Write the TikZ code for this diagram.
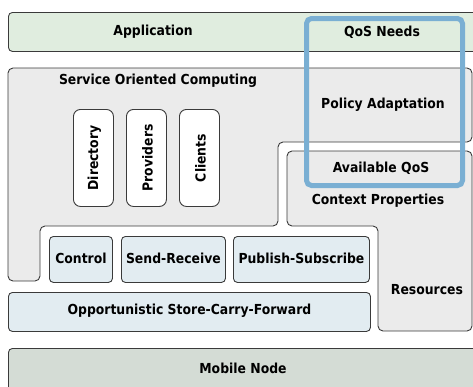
\documentclass[tikz,border=0pt]{standalone}
\usepackage{fontspec}
\setmainfont{DejaVu Sans}
\newfontfamily\lblfont{DejaVu Sans}[FakeStretch=0.9]
\definecolor{appgreen}{HTML}{E0EDDF}
\definecolor{socgray}{HTML}{EBEBEB}
\definecolor{lblue}{HTML}{E2ECF1}
\definecolor{mobgray}{HTML}{D4DCD5}
\definecolor{qosblue}{HTML}{7AAFD3}
\definecolor{edge}{HTML}{3A3A3A}
\begin{document}
\begin{tikzpicture}[x=1pt,y=-1pt,
  lbl/.style={font=\lblfont\fontsize{13.8}{16}\selectfont\bfseries, text=black, inner sep=0pt},
  layer/.style={draw=edge, line width=0.9pt, rounded corners=4pt, inner sep=0pt, anchor=north west},
  vbox/.style={layer, fill=white, rounded corners=7pt, minimum width=40pt, minimum height=97pt},
  proto/.style={layer, fill=lblue, minimum height=46pt}]
\useasboundingbox (0,0) rectangle (473,386);
% Application layer
\node[layer, fill=appgreen, minimum width=480pt, minimum height=39pt] (app) at (8,12) {};
\node[lbl] (applbl) at (153,32) {Application};
% Service oriented computing region
\draw[draw=edge, line width=0.9pt, fill=socgray, rounded corners=5pt]
  (8,68) -- (472,68) -- (472,142) -- (278,142) -- (278,226) -- (40,226) -- (40,281) -- (8,281) -- cycle;
\node[lbl] (soc) at (158,81) {Service Oriented Computing};
% Context properties / resources region
\draw[draw=edge, line width=0.9pt, fill=socgray, rounded corners=5pt]
  (287,151) -- (472,151) -- (472,331) -- (378,331) -- (378,226) -- (287,226) -- cycle;
\node[lbl] (ctx) at (378,201) {Context Properties};
\node[lbl] (res) at (427,290) {Resources};
% service boxes
\node[vbox] (dir) at (73,109) {};
\node[vbox] (prov) at (126,109) {};
\node[vbox] (cli) at (179,109) {};
\node[lbl, rotate=90] (dirl) at ([xshift=1pt]dir.center) {Directory};
\node[lbl, rotate=90] (provl) at ([xshift=1pt]prov.center) {Providers};
\node[lbl, rotate=90] (clil) at ([xshift=1pt]cli.center) {Clients};
% protocol boxes
\node[proto, minimum width=63pt] (ctl) at (49,236) {};
\node[proto, minimum width=104pt] (sr) at (121,236) {};
\node[proto, minimum width=136pt] (ps) at (233,236) {};
\node[lbl] at ([yshift=1pt]ctl.center) {Control};
\node[lbl] at ([yshift=1pt]sr.center) {Send-Receive};
\node[lbl] at ([yshift=1pt]ps.center) {Publish-Subscribe};
% store carry forward
\node[layer, fill=lblue, minimum width=362pt, minimum height=39pt] (scf) at (8,292) {};
\node[lbl] at ([yshift=1pt]scf.center) {Opportunistic Store-Carry-Forward};
% mobile node
\node[layer, fill=mobgray, minimum width=480pt, minimum height=48pt] (mob) at (8,348) {};
\node[lbl] (mobl) at (243,368) {Mobile Node};
% QoS frame
\node[draw=qosblue, line width=5pt, rounded corners=5pt, minimum width=156pt, minimum height=167pt, anchor=north west, inner sep=0pt] (qos) at (304,16) {};
\node[lbl] (need) at (382,32) {QoS Needs};
\node[lbl] (pol) at (383,105) {Policy Adaptation};
\node[lbl] (avail) at (381,168) {Available QoS};
\end{tikzpicture}
\end{document}
